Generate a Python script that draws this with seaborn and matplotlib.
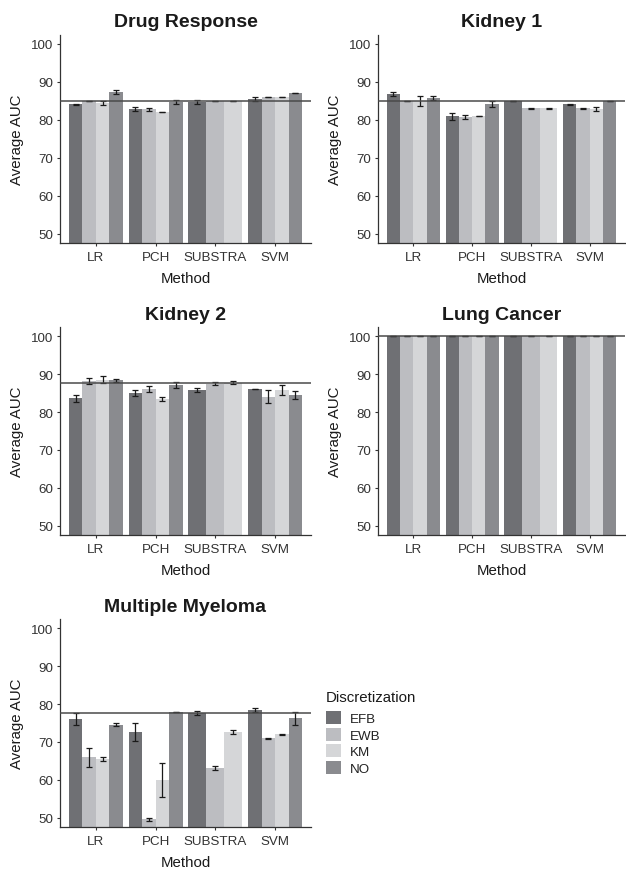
#grouped bar chart of average AUC per method and discretization, one panel per dataset
#values, error bars are the spread around each mean

import pandas as pd
import matplotlib
matplotlib.use("Agg")
import matplotlib.pyplot as plt
from matplotlib.patches import Patch
import seaborn as sns

methods = ["LR", "PCH", "SUBSTRA", "SVM"]
discs = ["EFB", "EWB", "KM", "NO"]
colors = {"EFB": "#6f7074", "EWB": "#bcbdc1", "KM": "#d5d6d8", "NO": "#8a8b8f"}

# rows = methods, columns = EFB, EWB, KM, NO (SUBSTRA has no NO run)
drug_auc = [[84.1, 85.0, 84.4, 87.3], [82.75, 82.75, 82.05, 84.7], [84.7, 85.0, 85.0, None], [85.5, 86.0, 86.0, 87.1]]
drug_err = [[0.1, 0.05, 0.5, 0.5], [0.5, 0.45, 0.05, 0.5], [0.55, 0.05, 0.05, None], [0.5, 0.05, 0.05, 0.05]]
drug_ref = 85.0

kid1_auc = [[86.8, 85.0, 85.0, 85.7], [80.9, 80.7, 81.0, 84.07], [85.0, 83.0, 83.0, None], [84.07, 83.0, 82.75, 85.0]]
kid1_err = [[0.5, 0.05, 1.4, 0.45], [0.9, 0.5, 0.05, 0.8], [0.05, 0.05, 0.05, None], [0.05, 0.05, 0.5, 0.05]]
kid1_ref = 85.0

kid2_auc = [[83.7, 88.1, 88.6, 88.4], [85.0, 86.1, 83.45, 87.15], [85.8, 87.5, 87.8, None], [86.1, 84.1, 85.8, 84.5]]
kid2_err = [[0.95, 0.8, 0.95, 0.45], [0.85, 0.85, 0.45, 0.85], [0.45, 0.45, 0.5, None], [0.05, 1.75, 1.3, 1.0]]
kid2_ref = 87.8

lung_auc = [[100, 100, 100, 100], [100, 100, 100, 100], [100, 100, 100, None], [100, 100, 100, 100]]
lung_err = [[0, 0, 0, 0], [0, 0, 0, 0], [0, 0, 0, None], [0, 0, 0, 0]]
lung_ref = 100.0

mm_auc = [[76.05, 65.9, 65.5, 74.5], [72.6, 49.5, 59.9, 77.9], [77.6, 63.2, 72.6, None], [78.4, 71.0, 72.0, 76.3]]
mm_err = [[1.5, 2.5, 0.6, 0.4], [2.4, 0.5, 4.4, 0.1], [0.5, 0.5, 0.6, None], [0.5, 0.1, 0.1, 1.7]]
mm_ref = 77.7

panels = [
    ("Drug Response", drug_auc, drug_err, drug_ref),
    ("Kidney 1", kid1_auc, kid1_err, kid1_ref),
    ("Kidney 2", kid2_auc, kid2_err, kid2_ref),
    ("Lung Cancer", lung_auc, lung_err, lung_ref),
    ("Multiple Myeloma", mm_auc, mm_err, mm_ref),
]

sns.set_theme(style="ticks")
plt.rcParams["font.family"] = ["Liberation Sans", "DejaVu Sans"]

W, H = 626, 870
fig = plt.figure(figsize=(W / 100, H / 100), dpi=100)

# axes boxes in pixels (left, top, right, bottom)
boxes = [(60, 35.5, 311, 244), (378, 35.5, 625, 244),
         (60, 328, 311, 536), (378, 328, 625, 536),
         (60, 620, 311, 828)]

SPINE = "#333333"
TXT = "#333333"


def draw_panel(ax, title, auc, err, ref):
    rows = []
    for i, m in enumerate(methods):
        for j, d in enumerate(discs):
            if auc[i][j] is None:
                continue
            rows.append({"Method": m, "Discretization": d, "AUC": auc[i][j], "se": err[i][j]})
    df = pd.DataFrame(rows)

    # SUBSTRA only has 3 bars, they share the full group width (like ggplot dodge)
    for part in (df[df.Method != "SUBSTRA"], df[df.Method == "SUBSTRA"]):
        levels = [d for d in discs if d in set(part.Discretization)]
        start = len(ax.containers)
        sns.barplot(data=part, x="Method", y="AUC", hue="Discretization",
                    order=methods, hue_order=levels, palette=colors,
                    width=0.9, errorbar=None, saturation=1, legend=False,
                    linewidth=0, ax=ax)
        for cont, lev in zip(ax.containers[start:], levels):
            sel = part[part.Discretization == lev]
            for bar, (_, r) in zip(cont, sel.iterrows()):
                x = bar.get_x() + bar.get_width() / 2
                ax.errorbar(x, r.AUC, yerr=r.se, color="#1a1a1a", elinewidth=0.9,
                            capsize=2.2, capthick=0.9, zorder=4)

    ax.axhline(ref, color="#4a4a4a", lw=1.1, zorder=5)
    ax.set_xlim(-0.6, 3.6)
    ax.set_ylim(47.5, 102.5)
    ax.set_yticks([50, 60, 70, 80, 90, 100])
    ax.set_title(title, fontsize=14, fontweight="bold", pad=6, color="#1a1a1a")
    ax.set_xlabel("Method", fontsize=10.8, labelpad=5.5, color="#1a1a1a")
    ax.set_ylabel("Average AUC", fontsize=10.8, labelpad=5, color="#1a1a1a")
    ax.tick_params(axis="both", labelsize=9.6, colors=SPINE, labelcolor=TXT,
                   length=2.5, width=0.8, pad=2.5)
    ax.tick_params(axis="x", pad=3.2)
    sns.despine(ax=ax)
    for s in ("left", "bottom"):
        ax.spines[s].set_color(SPINE)
        ax.spines[s].set_linewidth(0.9)
    ax.grid(False)


for (title, auc, err, ref), (l, t, r, b) in zip(panels, boxes):
    ax = fig.add_axes([l / W, 1 - b / H, (r - l) / W, (b - t) / H])
    draw_panel(ax, title, auc, err, ref)

# legend title drawn apart so the gap under it matches the reference
fig.text(326 / W, 1 - 698 / H, "Discretization", fontsize=10.8, color="#1a1a1a", va="center")
handles = [Patch(facecolor=colors[d], edgecolor="none", label=d) for d in discs]
leg = fig.legend(handles=handles, loc="upper left",
                 bbox_to_anchor=(326 / W, 1 - 712 / H), frameon=False,
                 fontsize=9.6, borderpad=0, borderaxespad=0,
                 handlelength=1.12, handleheight=1.12,
                 labelspacing=0.2, handletextpad=0.7)
for txt in leg.get_texts():
    txt.set_color("#222222")

fig.savefig("out.png", dpi=100)
